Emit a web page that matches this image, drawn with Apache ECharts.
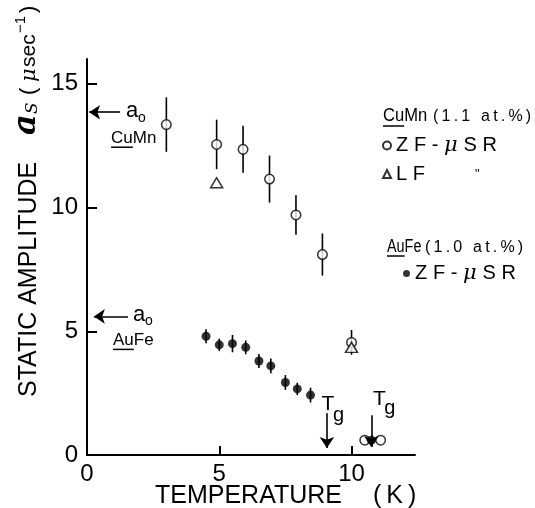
<!DOCTYPE html>
<html>
<head>
<meta charset="utf-8">
<script src="https://cdn.jsdelivr.net/npm/echarts@6/dist/echarts.min.js"></script>
<style>
  html, body { margin: 0; padding: 0; background: #fff; }
  #main { width: 535px; height: 508px; }
</style>
</head>
<body>
<div id="main"></div>
<script>
// CuMn (1.1 at.%) zero-field muSR: temperature (K), static amplitude, error
const cuMnZfT   = [3.0, 4.9, 5.9, 6.9, 7.9, 8.9, 10.0, 10.5, 11.1];
const cuMnZfA   = [13.35, 12.55, 12.35, 11.15, 9.7, 8.1, 4.55, 0.6, 0.6];
const cuMnZfErr = [1.1, 1.0, 0.95, 0.95, 0.8, 0.85, 0.5, 0, 0];

// CuMn longitudinal-field points
const cuMnLfT = [4.9, 10.0];
const cuMnLfA = [11.0, 4.35];

// AuFe (1.0 at.%) zero-field muSR
const auFeZfT   = [4.5, 5.0, 5.5, 6.0, 6.5, 6.95, 7.5, 7.95, 8.45, 10.75];
const auFeZfA   = [4.8, 4.45, 4.5, 4.35, 3.8, 3.6, 2.93, 2.67, 2.42, 0.6];
const auFeZfErr = [0.28, 0.25, 0.35, 0.28, 0.28, 0.3, 0.3, 0.25, 0.3, 0];

// Spin-glass freezing temperatures: AuFe, CuMn
const tgTemps = [9.07, 10.75];
// Full (high temperature) amplitudes a0: CuMn, AuFe
const a0Names  = ['CuMn', 'AuFe'];
const a0Values = [13.85, 5.6];

const FONT = '"Liberation Sans", Arial, sans-serif';
const SERIF = '"DejaVu Serif", serif';
const TS = '\u2009';
const WS = '\u2009\u200A';
const spread = (s, gap) => s.split('').join(gap || TS);

const zip3 = (a, b, c) => a.map((v, i) => [v, b[i], c ? c[i] : 0]);

function errorBars(params, api) {
  const x = api.value(0), y = api.value(1), e = api.value(2);
  if (!e) return null;
  const p1 = api.coord([x, y + e]);
  const p2 = api.coord([x, y - e]);
  return {
    type: 'line',
    shape: { x1: p1[0], y1: p1[1], x2: p2[0], y2: p2[1] },
    style: { stroke: '#000', lineWidth: 1.6 }
  };
}

const openStyle = { color: '#fff', borderColor: '#000', borderWidth: 1.5 };

const zfLabel = '{t|' + spread('ZF-', WS) + WS + '}{m|μ}{t|' + WS + spread('SR', WS) + '}';
const legendText = {
  'CuMn ZF': zfLabel,
  'CuMn LF': '{t|' + spread('LF', WS) + '}{d|"}',
  'AuFe ZF': zfLabel
};
const legendRich = {
  t: { fontSize: 20, fontFamily: FONT, color: '#000' },
  m: { fontSize: 21, fontFamily: SERIF, fontStyle: 'italic', color: '#000' },
  d: { fontSize: 13, fontFamily: FONT, color: '#000', padding: [0, 0, 0, 50] }
};

const axisCommon = {
  axisLine: { show: true, lineStyle: { color: '#000', width: 2 } },
  axisTick: { show: true, inside: true, lineStyle: { color: '#000', width: 2 } },
  axisLabel: { color: '#000', fontSize: 24, fontFamily: FONT, showMaxLabel: false },
  splitLine: { show: false }
};

const chart = echarts.init(document.getElementById('main'), null, { renderer: 'canvas' });

chart.setOption({
  animation: false,
  backgroundColor: '#fff',
  grid: { left: 87, right: 120, top: 59, bottom: 53 },
  xAxis: Object.assign({}, axisCommon, {
    type: 'value', min: 0, max: 12.4, interval: 5,
    axisTick: Object.assign({}, axisCommon.axisTick, { length: 9 }),
    axisLabel: Object.assign({}, axisCommon.axisLabel, { margin: 7 })
  }),
  yAxis: Object.assign({}, axisCommon, {
    type: 'value', min: 0, max: 16, interval: 5,
    axisTick: Object.assign({}, axisCommon.axisTick, { length: 10 }),
    axisLabel: Object.assign({}, axisCommon.axisLabel, { margin: 9 })
  }),
  legend: [
    {
      data: ['CuMn ZF', 'CuMn LF'], orient: 'vertical', left: 377, top: 130,
      itemWidth: 8, itemHeight: 8, itemGap: 8, selectedMode: false,
      formatter: n => legendText[n],
      textStyle: { color: '#000', lineHeight: 20, rich: legendRich }
    },
    {
      data: ['AuFe ZF'], orient: 'vertical', left: 398, top: 258,
      itemWidth: 7, itemHeight: 7, selectedMode: false,
      formatter: n => legendText[n],
      textStyle: { color: '#000', lineHeight: 20, rich: legendRich }
    }
  ],
  series: [
    {
      type: 'custom', name: 'CuMn err', renderItem: errorBars, z: 1,
      encode: { x: 0, y: 1 }, data: zip3(cuMnZfT, cuMnZfA, cuMnZfErr)
    },
    {
      type: 'scatter', name: 'CuMn ZF', symbol: 'circle', symbolSize: 9.5, z: 3,
      itemStyle: openStyle, data: cuMnZfT.map((t, i) => [t, cuMnZfA[i]])
    },
    {
      type: 'scatter', name: 'CuMn LF', symbol: 'triangle', symbolSize: [12, 10], z: 3,
      itemStyle: openStyle, data: cuMnLfT.map((t, i) => [t, cuMnLfA[i]])
    },
    {
      type: 'custom', name: 'AuFe err', renderItem: errorBars, z: 4,
      encode: { x: 0, y: 1 }, data: zip3(auFeZfT, auFeZfA, auFeZfErr)
    },
    {
      type: 'scatter', name: 'AuFe ZF', symbol: 'circle', symbolSize: 9, z: 5,
      itemStyle: { color: '#000' }, data: auFeZfT.map((t, i) => [t, auFeZfA[i]])
    },
    {
      // Arrows: Tg markers and the a0 levels on the amplitude axis
      type: 'scatter', name: 'arrows', data: [], z: 6,
      markLine: {
        silent: true, animation: false,
        symbol: ['none', 'arrow'], symbolSize: 11,
        lineStyle: { color: '#000', width: 1.6, type: 'solid' },
        label: { show: false },
        data: [
          [{ coord: [tgTemps[0], 1.69] }, { coord: [tgTemps[0], 0.28] }],
          [{ coord: [tgTemps[1], 1.61] }, { coord: [tgTemps[1], 0.32] }],
          [{ coord: [1.25, a0Values[0]] }, { coord: [0.08, a0Values[0]] }],
          [{ coord: [1.55, a0Values[1]] }, { coord: [0.26, a0Values[1]] }]
        ]
      }
    }
  ]
});

// ---- text annotations ----
const ctx = document.createElement('canvas').getContext('2d');
function measure(text, font) { ctx.font = font; return ctx.measureText(text).width; }

function txt(x, y, text, font, align, vAlign, sx) {
  align = align || 'left'; vAlign = vAlign || 'middle';
  const el = {
    type: 'text', x: x, y: y, silent: true,
    style: { text: text, font: font, fill: '#000',
             align: align, verticalAlign: vAlign,
             textAlign: align, textVerticalAlign: vAlign }
  };
  if (sx) { el.scaleX = sx; }
  return el;
}
function rule(x1, y, x2) {
  return { type: 'line', silent: true, shape: { x1: x1, y1: y, x2: x2, y2: y },
           style: { stroke: '#000', lineWidth: 1.5 } };
}
const px = (x, y) => chart.convertToPixel({ xAxisIndex: 0, yAxisIndex: 0 }, [x, y]);

const els = [];

// amplitude axis title, written bottom to top
els.push({
  type: 'group', x: 29, y: 397, rotation: Math.PI / 2,
  children: [
    txt(0, 0, 'STATIC AMPLITUDE', '25px ' + FONT),
    txt(262, -2, 'a', 'italic bold 32px ' + SERIF),
    txt(283, 4, 'S', 'italic 17px ' + SERIF),
    txt(302, 0, '(', '22px ' + FONT),
    txt(315, 1, 'μ', 'italic 21px ' + SERIF),
    txt(330, 0, 'sec', '21px ' + FONT),
    txt(364, -8, '\u22121', '15px ' + FONT),
    txt(384, 0, ')', '22px ' + FONT)
  ]
});

// temperature axis title
els.push(txt(155, 496, 'TEMPERATURE', '25px ' + FONT));
els.push(txt(373, 496, '(' + TS + 'K' + TS + ')', '25px ' + FONT));

// a0 labels next to the arrows
const nameFont = '17px ' + FONT;
const q0 = px(1.25, a0Values[0]);
els.push(txt(q0[0] + 6, q0[1] - 1, 'a', '22px ' + FONT));
els.push(txt(q0[0] + 18, q0[1] + 6, 'o', '14px ' + FONT));
els.push(txt(q0[0] - 9, q0[1] + 26, a0Names[0], nameFont));
els.push(rule(q0[0] - 9, q0[1] + 35, q0[0] - 9 + measure('Cu', nameFont)));

const q1 = px(1.55, a0Values[1]);
els.push(txt(q1[0] + 5, q1[1] - 1, 'a', '22px ' + FONT));
els.push(txt(q1[0] + 17, q1[1] + 5, 'o', '14px ' + FONT));
els.push(txt(q1[0] - 15, q1[1] + 24, a0Names[1], nameFont));
els.push(rule(q1[0] - 15, q1[1] + 33, q1[0] - 15 + measure('Au', nameFont)));

// Tg labels above the arrows
const g0 = px(tgTemps[0], 1.69);
els.push(txt(g0[0] + 1, g0[1] - 9, 'T', '21px ' + FONT, 'center'));
els.push(txt(g0[0] + 6, g0[1] + 2, 'g', '20px ' + FONT));
const g1 = px(tgTemps[1], 1.61);
els.push(txt(g1[0] + 8, g1[1] - 16, 'T', '21px ' + FONT, 'center'));
els.push(txt(g1[0] + 13, g1[1] - 7, 'g', '20px ' + FONT));

// legend group headings
const headFont = '18px ' + FONT;
const subFont = '16px ' + FONT;
const cuSx = 0.92, auSx = 0.8;
els.push(txt(383, 116, 'CuMn', headFont, 'left', 'middle', cuSx));
els.push(rule(383, 126, 383 + measure('Cu', headFont) * cuSx));
els.push(txt(433, 117, spread('(1.1 at.%)'), subFont));
els.push(txt(387, 247, 'AuFe', headFont, 'left', 'middle', auSx));
els.push(rule(387, 256, 387 + measure('Au', headFont) * auSx));
els.push(txt(425, 248, spread('(1.0 at.%)'), subFont));

chart.setOption({ graphic: { elements: els } });
</script>
</body>
</html>
